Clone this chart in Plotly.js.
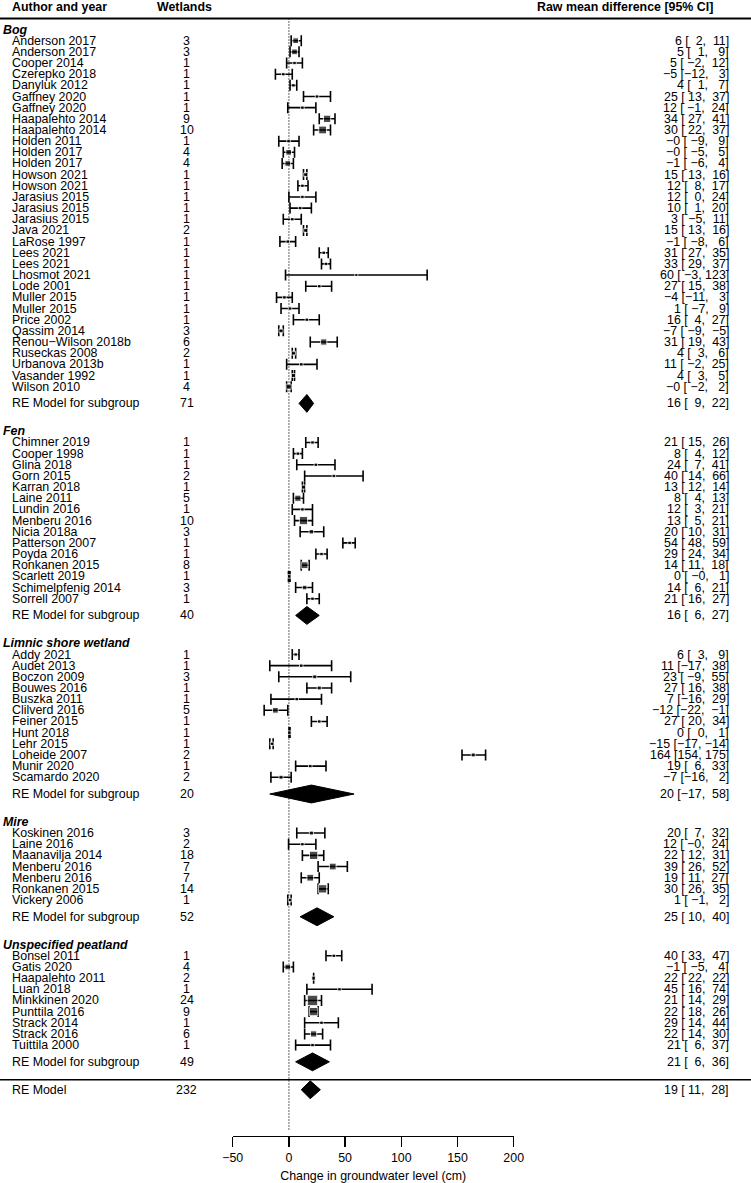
<!DOCTYPE html>
<html>
<head>
<meta charset="utf-8">
<script src="https://cdn.plot.ly/plotly-3.0.1.min.js"></script>
<style>
  body { margin: 0; background: #fff; }
  #gd { width: 751px; height: 1183px; }
</style>
</head>
<body>
<div id="gd"></div>
<script>
// subgroups
var groupNames = ['Bog', 'Fen', 'Limnic shore wetland', 'Mire', 'Unspecified peatland'];
var groupWetlands = [71, 40, 20, 52, 49];
var groupEst = [16, 16, 20, 25, 21];
var groupLo = [9, 6, -17, 10, 6];
var groupHi = [22, 27, 58, 40, 36];

var overallWetlands = 232;
var overallEst = 19;
var overallLo = 11;
var overallHi = 28;

// studies, in plot order
var studyGroup = [
  0,0,0,0,0,0,0,0,0,0,0,0,0,0,0,0,0,0,0,0,0,0,0,0,0,0,0,0,0,0,0,0,
  1,1,1,1,1,1,1,1,1,1,1,1,1,1,1,
  2,2,2,2,2,2,2,2,2,2,2,2,
  3,3,3,3,3,3,3,
  4,4,4,4,4,4,4,4,4
];
var studyNames = [
  'Anderson 2017', 'Anderson 2017', 'Cooper 2014', 'Czerepko 2018', 'Danyluk 2012',
  'Gaffney 2020', 'Gaffney 2020', 'Haapalehto 2014', 'Haapalehto 2014', 'Holden 2011',
  'Holden 2017', 'Holden 2017', 'Howson 2021', 'Howson 2021', 'Jarasius 2015',
  'Jarasius 2015', 'Jarasius 2015', 'Java 2021', 'LaRose 1997', 'Lees 2021',
  'Lees 2021', 'Lhosmot 2021', 'Lode 2001', 'Muller 2015', 'Muller 2015',
  'Price 2002', 'Qassim 2014', 'Renou\u2212Wilson 2018b', 'Ruseckas 2008', 'Urbanova 2013b',
  'Vasander 1992', 'Wilson 2010',
  'Chimner 2019', 'Cooper 1998', 'Glina 2018', 'Gorn 2015', 'Karran 2018',
  'Laine 2011', 'Lundin 2016', 'Menberu 2016', 'Nicia 2018a', 'Patterson 2007',
  'Poyda 2016', 'Ronkanen 2015', 'Scarlett 2019', 'Schimelpfenig 2014', 'Sorrell 2007',
  'Addy 2021', 'Audet 2013', 'Boczon 2009', 'Bouwes 2016', 'Buszka 2011',
  'Clilverd 2016', 'Feiner 2015', 'Hunt 2018', 'Lehr 2015', 'Loheide 2007',
  'Munir 2020', 'Scamardo 2020',
  'Koskinen 2016', 'Laine 2016', 'Maanavilja 2014', 'Menberu 2016', 'Menberu 2016',
  'Ronkanen 2015', 'Vickery 2006',
  'Bonsel 2011', 'Gatis 2020', 'Haapalehto 2011', 'Luan 2018', 'Minkkinen 2020',
  'Punttila 2016', 'Strack 2014', 'Strack 2016', 'Tuittila 2000'
];
var studyWetlands = [
  3,3,1,1,1,1,1,9,10,1,4,4,1,1,1,1,1,2,1,1,1,1,1,1,1,1,3,6,2,1,1,4,
  1,1,1,2,1,5,1,10,3,1,1,8,1,3,1,
  1,1,3,1,1,5,1,1,1,2,1,2,
  3,2,18,7,7,14,1,
  1,4,2,1,24,9,1,6,1
];
var studyEst = [
  6,5,5,-5,4,25,12,34,30,-0.3,-0.2,-1,15,12,12,10,3,15,-1,31,33,60,27,-4,1,16,-7,31,4,11,4,-0.2,
  21,8,24,40,13,8,12,13,20,54,29,14,0.3,14,21,
  6,11,23,27,7,-12,27,0.4,-15,164,19,-7,
  20,12,22,39,19,30,1,
  40,-1,22,45,21,22,29,22,21
];
var studyLo = [
  2,1,-2,-12,1,13,-1,27,22,-9,-5,-6,13,8,0,1,-5,13,-8,27,29,-3,15,-11,-7,4,-9,19,3,-2,3,-2,
  15,4,7,14,12,4,3,5,10,48,24,11,-0.4,6,16,
  3,-17,-9,16,-16,-22,20,0.1,-17,154,6,-16,
  7,-0.3,12,26,11,26,-1,
  33,-5,22,16,14,18,14,14,6
];
var studyHi = [
  11,9,12,3,7,37,24,41,37,9,5,4,16,17,24,20,11,16,6,35,37,123,38,3,9,27,-5,43,6,25,5,2,
  26,12,41,66,14,13,21,21,31,59,34,18,1,21,27,
  9,38,55,38,29,-1,34,1,-14,175,33,2,
  32,24,31,52,27,35,2,
  47,4,22,74,29,26,44,30,37
];
// relative box weight (0 = smallest, 1 = largest)
var studyWeight = [
  0.36,0.36,0.07,0.07,0.07,0.07,0.07,0.57,0.64,0.07,0.36,0.36,0.14,0.07,0.07,0.07,0.07,0.14,0.07,0.07,0.07,0.0,0.07,0.07,0.07,0.07,0.14,0.43,0.14,0.07,0.14,0.29,
  0.07,0.07,0.07,0.07,0.14,0.43,0.07,0.71,0.21,0.07,0.07,0.5,0.07,0.21,0.07,
  0.07,0.07,0.14,0.14,0.07,0.36,0.07,0.07,0.07,0.14,0.07,0.14,
  0.14,0.07,0.71,0.5,0.5,0.71,0.07,
  0.07,0.36,0.14,0.07,1.0,0.71,0.07,0.43,0.07
];

var W = 751, H = 1183;
var FONT = '"Liberation Sans", Arial, Helvetica, sans-serif';
var FS = 12.4;

function num(v) {
  return v.toFixed(0).replace('-', '\u2212');
}
function pad(s) {
  while (s.length < 3) s = '\u00a0' + s;
  return s;
}
function ciText(e, lo, hi) {
  return num(e) + ' [' + pad(num(lo)) + ', ' + pad(num(hi)) + ']';
}

// row layout: header row, studies, gap, subgroup summary, gap
var studyRow = [], groupHeaderRow = [], groupRow = [];
var y = -1, k = 0;
groupNames.forEach(function (g, gi) {
  groupHeaderRow.push(y);
  y += 1;
  while (k < studyGroup.length && studyGroup[k] === gi) {
    studyRow.push(y);
    y += 1; k++;
  }
  groupRow.push(y + 0.5);
  y += 3;
});
var overallRow = y;
var sepRow = overallRow - 0.9;

var traces = [];
traces.push({
  type: 'scatter', mode: 'markers',
  x: studyEst, y: studyRow,
  marker: {
    symbol: 'square', color: '#000',
    size: studyWeight.map(function (w) { return 3 + 7.5 * w; })
  },
  error_x: {
    type: 'data', symmetric: false,
    array: studyHi.map(function (h, i) { return h - studyEst[i]; }),
    arrayminus: studyLo.map(function (l, i) { return studyEst[i] - l; }),
    color: '#000', thickness: 1.6, width: 5.5
  },
  hoverinfo: 'skip', showlegend: false
});

function diamond(e, lo, hi, row) {
  var hh = 0.8;
  return {
    type: 'scatter', mode: 'lines',
    x: [lo, e, hi, e, lo], y: [row, row - hh, row, row + hh, row],
    fill: 'toself', fillcolor: '#000',
    line: { color: '#000', width: 1 },
    hoverinfo: 'skip', showlegend: false
  };
}
groupNames.forEach(function (g, gi) {
  traces.push(diamond(groupEst[gi], groupLo[gi], groupHi[gi], groupRow[gi]));
});
traces.push(diamond(overallEst, overallLo, overallHi, overallRow));

var ann = [];
function txt(px, row, text, anchor) {
  ann.push({
    xref: 'paper', yref: 'y', x: px / W, y: row,
    text: text, xanchor: anchor, yanchor: 'middle',
    showarrow: false, borderpad: 0, borderwidth: 0,
    font: { family: FONT, size: FS, color: '#000' }
  });
}

var X_GROUP = 3, X_NAME = 12.3, X_N = 186.7, X_CI = 729;
txt(X_NAME, -3, '<b>Author and year</b>', 'left');
txt(184, -3, '<b>Wetlands</b>', 'center');
txt(712.5, -3, '<b>Raw mean difference [95% CI]</b>', 'right');

groupNames.forEach(function (g, gi) {
  txt(X_GROUP, groupHeaderRow[gi], '<b><i>' + g + '</i></b>', 'left');
  txt(X_NAME, groupRow[gi], 'RE Model for subgroup', 'left');
  txt(X_N, groupRow[gi], String(groupWetlands[gi]), 'center');
  txt(X_CI, groupRow[gi], ciText(groupEst[gi], groupLo[gi], groupHi[gi]), 'right');
});
studyNames.forEach(function (s, i) {
  txt(X_NAME, studyRow[i], s, 'left');
  txt(X_N, studyRow[i], String(studyWetlands[i]), 'center');
  txt(X_CI, studyRow[i], ciText(studyEst[i], studyLo[i], studyHi[i]), 'right');
});
txt(X_NAME, overallRow, 'RE Model', 'left');
txt(X_N, overallRow, String(overallWetlands), 'center');
txt(X_CI, overallRow, ciText(overallEst, overallLo, overallHi), 'right');

var shapes = [
  { type: 'line', xref: 'paper', yref: 'y', x0: 0, x1: 1, y0: -2, y1: -2,
    line: { color: '#000', width: 2 } },
  { type: 'line', xref: 'paper', yref: 'y', x0: 0, x1: 1, y0: sepRow, y1: sepRow,
    line: { color: '#000', width: 1.5 } },
  { type: 'line', xref: 'x', yref: 'y', x0: 0, x1: 0, y0: -2, y1: 97.7,
    line: { color: '#000', width: 1.2, dash: '1px,2px' }, layer: 'below' }
];

var layout = {
  width: W, height: H,
  margin: { l: 0, r: 0, t: 0, b: 0 },
  paper_bgcolor: '#fff', plot_bgcolor: '#fff',
  font: { family: FONT, size: FS, color: '#000' },
  showlegend: false,
  xaxis: {
    domain: [232.7 / W, 513.7 / W],
    range: [-50, 200],
    tickvals: [-50, 0, 50, 100, 150, 200],
    ticks: 'outside', ticklen: 10, tickwidth: 1.3, tickcolor: '#000',
    showline: true, linewidth: 1.3, linecolor: '#000',
    showgrid: false, zeroline: false, automargin: false,
    tickfont: { family: FONT, size: FS, color: '#000' },
    title: { text: 'Change in groundwater level (cm)', standoff: 7,
             font: { family: FONT, size: FS, color: '#000' } }
  },
  yaxis: {
    domain: [(H - 1135.5) / H, 1],
    range: [98.1, -3.647],
    visible: false, showgrid: false, zeroline: false
  },
  shapes: shapes,
  annotations: ann
};

Plotly.newPlot('gd', traces, layout, { staticPlot: true });
</script>
</body>
</html>
